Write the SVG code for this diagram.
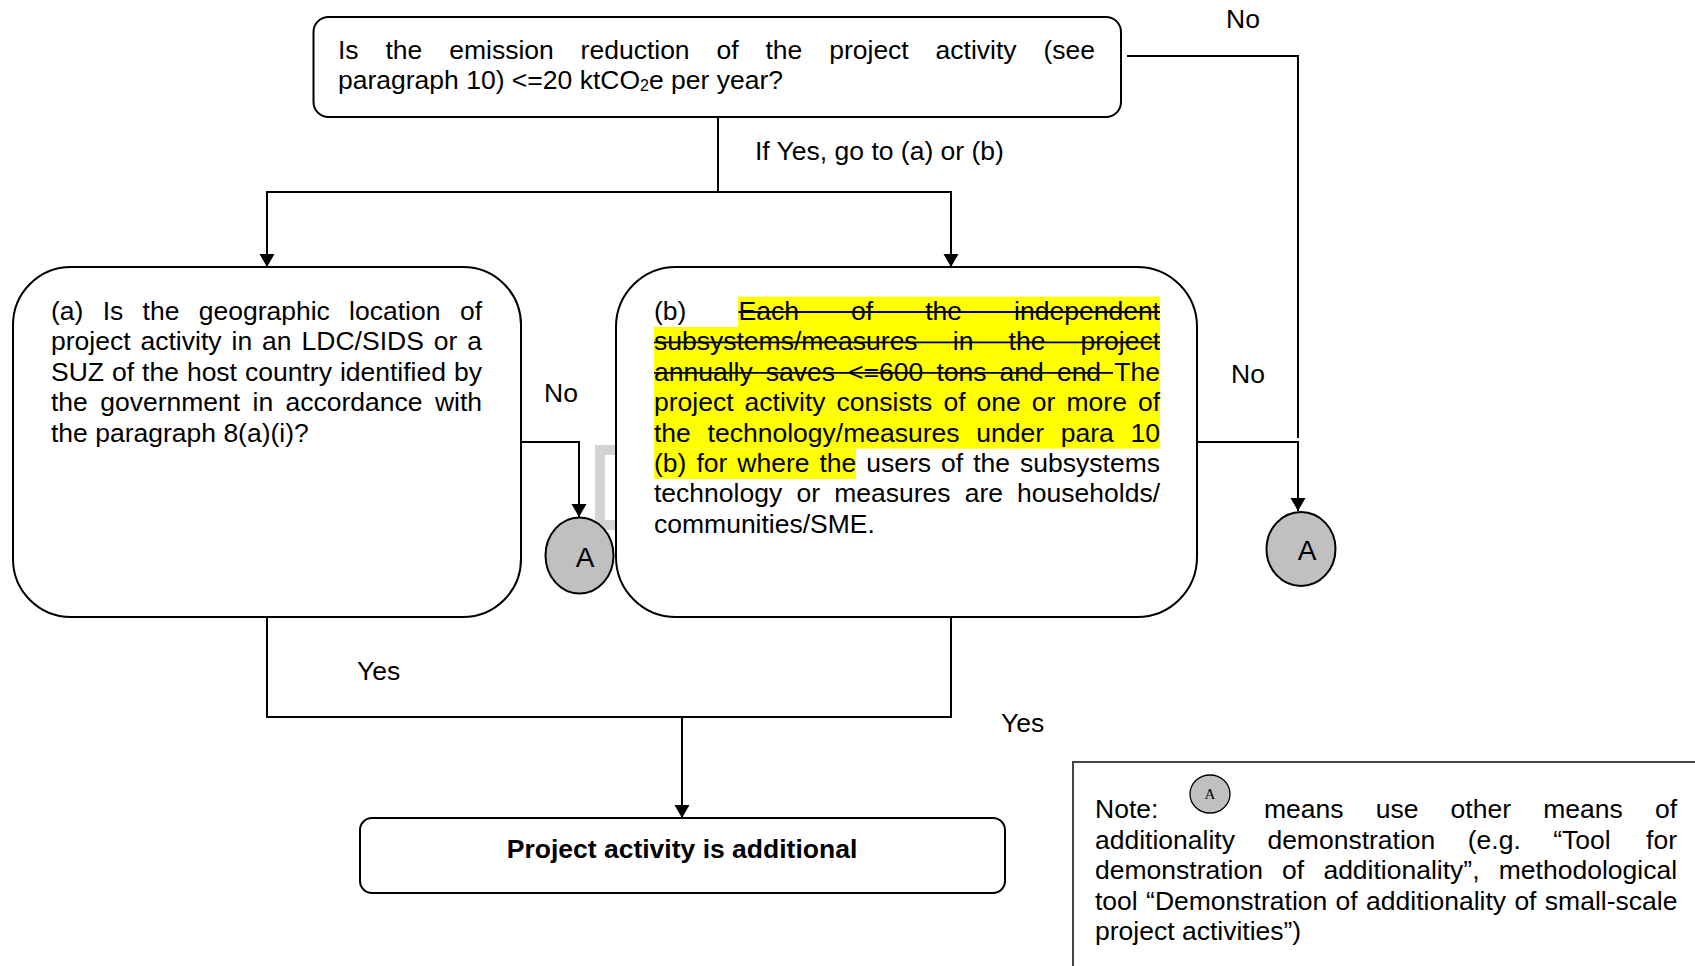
<svg xmlns="http://www.w3.org/2000/svg" width="1695" height="966" viewBox="0 0 1695 966">
<style>
.t{font-family:"Liberation Sans",Arial,sans-serif;font-size:26.5px;fill:#000}
.bold{font-weight:bold}
.box{stroke:#000;stroke-width:2;fill:#fff}
.ln{stroke:#000;stroke-width:2;fill:none}
.arr{stroke:#000;stroke-width:2;fill:none;marker-end:url(#ah)}
.strike{stroke:#000;stroke-width:1.8}
.hl{fill:#ffff00}
.circ{fill:#c0c0c0;stroke:#000;stroke-width:2}
.ca{font-family:"Liberation Sans",Arial,sans-serif;font-size:28px;fill:#000;text-anchor:middle}
</style>
<defs>
<marker id="ah" markerUnits="userSpaceOnUse" markerWidth="16" markerHeight="16" refX="13" refY="7.5" orient="auto">
<path d="M0,0 L13,7.5 L0,15 z" fill="#000"/>
</marker>
</defs>
<rect width="1695" height="966" fill="#fff"/>

<g id="connectors">
<path class="ln" d="M718,117 V192"/>
<path class="arr" d="M718,192 H267 V267"/>
<path class="arr" d="M718,192 H951 V267"/>
<path class="ln" d="M1127,56 H1298 V438"/>
<path class="arr" d="M1197,442 H1298 V511"/>
<path class="arr" d="M521,442 H579 V517"/>
<path class="ln" d="M267,617 V717 H951 V617"/>
<path class="arr" d="M682,717 V818"/>
<rect x="600" y="450" width="40" height="75" fill="none" stroke="#d3d3d3" stroke-width="10"/>
</g>

<g id="labels">
<text class="t" x="1226" y="28">No</text>
<text class="t" x="755" y="160">If Yes, go to (a) or (b)</text>
<text class="t" x="544" y="402">No</text>
<text class="t" x="1231" y="383">No</text>
<text class="t" x="357" y="680">Yes</text>
<text class="t" x="1001" y="732">Yes</text>
</g>

<g id="node-top">
<rect class="box" x="313.5" y="17" width="807.5" height="100" rx="15"/>
<text class="t" y="58.5"><tspan x="338">Is</tspan><tspan x="385.5">the</tspan><tspan x="449.2">emission</tspan><tspan x="580.6">reduction</tspan><tspan x="716.5">of</tspan><tspan x="765.5">the</tspan><tspan x="829.2">project</tspan><tspan x="935.6">activity</tspan><tspan x="1043.5">(see</tspan></text>
<text class="t" x="338" y="89">paragraph 10) &lt;=20 ktCO<tspan font-size="16" dy="2">2</tspan><tspan dy="-2">e per year?</tspan></text>
</g>

<g id="node-a">
<rect class="box" x="13" y="267" width="508" height="350" rx="58"/>
<text class="t" y="320"><tspan x="51">(a)</tspan><tspan x="102.7">Is</tspan><tspan x="142.6">the</tspan><tspan x="198.7">geographic</tspan><tspan x="349.1">location</tspan><tspan x="459.9">of</tspan></text>
<text class="t" y="350.4"><tspan x="51">project</tspan><tspan x="140.5">activity</tspan><tspan x="231.5">in</tspan><tspan x="262.1">an</tspan><tspan x="301.6">LDC/SIDS</tspan><tspan x="433.8">or</tspan><tspan x="467.3">a</tspan></text>
<text class="t" y="380.8"><tspan x="51">SUZ</tspan><tspan x="112">of</tspan><tspan x="142.1">the</tspan><tspan x="186.9">host</tspan><tspan x="245">country</tspan><tspan x="339.9">identified</tspan><tspan x="454">by</tspan></text>
<text class="t" y="411.2"><tspan x="51">the</tspan><tspan x="100.2">government</tspan><tspan x="252.5">in</tspan><tspan x="285.5">accordance</tspan><tspan x="434.9">with</tspan></text>
<text class="t" x="51" y="441.6">the paragraph 8(a)(i)?</text>
</g>

<g id="node-a-left">
<ellipse class="circ" cx="579.5" cy="555.5" rx="34" ry="38"/>
<text class="ca" x="585" y="567">A</text>
</g>

<g id="node-b">
<rect class="box" x="616" y="267" width="581" height="350" rx="60"/>
<rect class="hl" x="738" y="296.6" width="422" height="30.4"/>
<rect class="hl" x="654" y="327" width="506" height="121.6"/>
<rect class="hl" x="654" y="448.6" width="202" height="30.4"/>
<text class="t" y="320"><tspan x="654">(b)</tspan><tspan x="738.5">Each</tspan><tspan x="851">of</tspan><tspan x="925.2">the</tspan><tspan x="1014.1">independent</tspan></text>
<line class="strike" x1="738.5" y1="312" x2="1160" y2="312"/>
<text class="t" y="350.4"><tspan x="654">subsystems/measures</tspan><tspan x="952.8">in</tspan><tspan x="1008.6">the</tspan><tspan x="1080.5">project</tspan></text>
<line class="strike" x1="654" y1="342.4" x2="1160" y2="342.4"/>
<text class="t" y="380.8"><tspan x="654">annually</tspan><tspan x="765.8">saves</tspan><tspan x="848.1">&lt;=600</tspan><tspan x="936.4">tons</tspan><tspan x="999.6">and</tspan><tspan x="1056.9">end</tspan><tspan x="1114.3">The</tspan></text>
<line class="strike" x1="654" y1="372.8" x2="1113" y2="372.8"/>
<text class="t" y="411.2"><tspan x="654">project</tspan><tspan x="744.6">activity</tspan><tspan x="836.6">consists</tspan><tspan x="943.4">of</tspan><tspan x="976.6">one</tspan><tspan x="1031.8">or</tspan><tspan x="1066.5">more</tspan><tspan x="1137.9">of</tspan></text>
<text class="t" y="441.6"><tspan x="654">the</tspan><tspan x="707.6">technology/measures</tspan><tspan x="976.2">under</tspan><tspan x="1060.8">para</tspan><tspan x="1130.5">10</tspan></text>
<text class="t" y="472"><tspan x="654">(b)</tspan><tspan x="696.4">for</tspan><tspan x="737.3">where</tspan><tspan x="819.5">the</tspan><tspan x="866.3">users</tspan><tspan x="941.1">of</tspan><tspan x="973.2">the</tspan><tspan x="1020.1">subsystems</tspan></text>
<text class="t" y="502.4"><tspan x="654">technology</tspan><tspan x="796.4">or</tspan><tspan x="834.2">measures</tspan><tspan x="964.7">are</tspan><tspan x="1017.1">households/</tspan></text>
<text class="t" x="654" y="532.8">communities/SME.</text>
</g>

<g id="node-a-right">
<ellipse class="circ" cx="1301" cy="549" rx="34.5" ry="37"/>
<text class="ca" x="1307" y="560">A</text>
</g>

<g id="node-result">
<rect class="box" x="360" y="818" width="645" height="75" rx="12"/>
<text class="t bold" x="682" y="858" text-anchor="middle">Project activity is additional</text>
</g>

<g id="node-note">
<rect x="1073" y="762" width="700" height="300" fill="none" stroke="#444" stroke-width="2"/>
<ellipse cx="1210" cy="794" rx="20" ry="19" fill="#c0c0c0" stroke="#000" stroke-width="1.3"/>
<text x="1210" y="799" text-anchor="middle" style="font-family:'Liberation Serif','Times New Roman',serif;font-size:15px;fill:#000">A</text>
<text class="t" y="818"><tspan x="1095">Note:</tspan><tspan x="1264">means</tspan><tspan x="1375.7">use</tspan><tspan x="1450.6">other</tspan><tspan x="1543.2">means</tspan><tspan x="1654.9">of</tspan></text>
<text class="t" y="848.5"><tspan x="1095">additionality</tspan><tspan x="1267.4">demonstration</tspan><tspan x="1467.8">(e.g.</tspan><tspan x="1553.3">“Tool</tspan><tspan x="1646.1">for</tspan></text>
<text class="t" y="879"><tspan x="1095">demonstration</tspan><tspan x="1282.1">of</tspan><tspan x="1323.4">additionality”,</tspan><tspan x="1498.8">methodological</tspan></text>
<text class="t" x="1095" y="909.5" word-spacing="1">tool “Demonstration of additionality of small-scale</text>
<text class="t" x="1095" y="940">project activities”)</text>
</g>
</svg>
